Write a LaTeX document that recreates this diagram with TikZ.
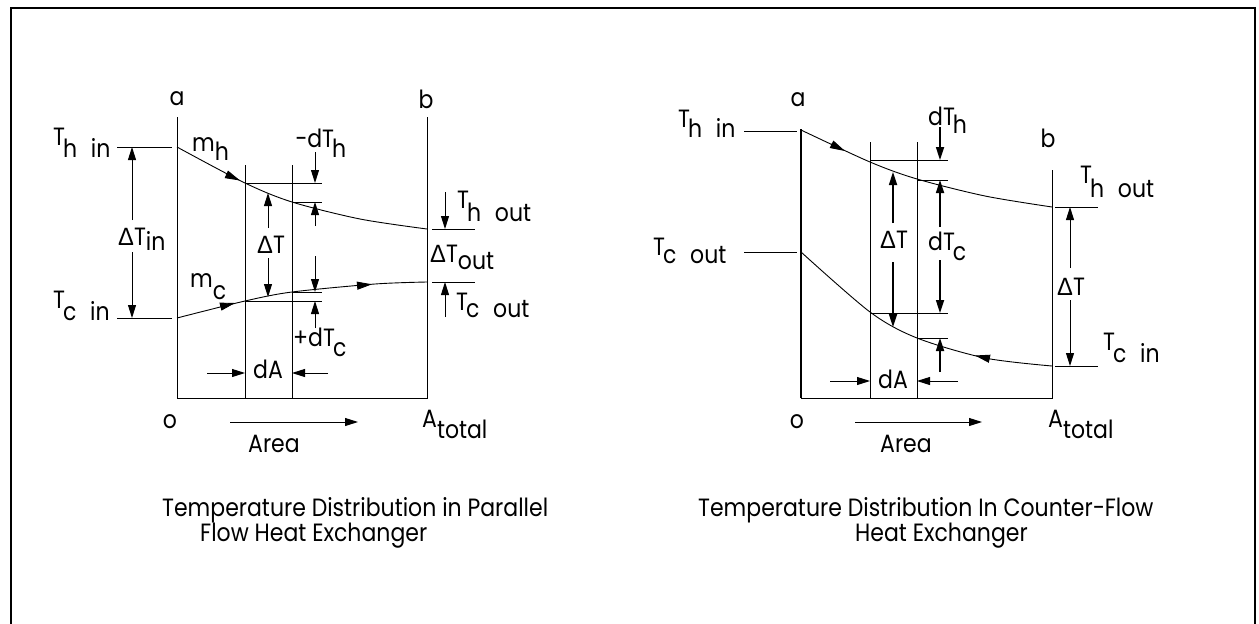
\documentclass[tikz,border=0pt]{standalone}
\usepackage{fontspec}
\setmainfont[FakeStretch=0.88]{Poppins}
\newfontfamily\dvfont[FakeStretch=0.95]{Liberation Sans}
\usetikzlibrary{arrows.meta}
\newcommand\sublow[2][10pt]{\raisebox{-#1}{#2}}
\newcommand\Dl{{\dvfont Δ}}
\newcommand\gap{\hspace{0.55em}}
\tikzset{
  ln/.style={line width=0.9pt},
  thk/.style={line width=1.7pt},
  arr/.style={ln,-{Triangle[length=13pt,width=8pt]}},
  arrt/.style={thk,-{Triangle[length=13pt,width=8pt]}},
  flow/.style={ln,-{Triangle[length=15pt,width=8pt]}},
  lbl/.style={anchor=base west,inner sep=0pt,font=\fontsize{25}{28}\selectfont},
  lblc/.style={anchor=center,inner sep=0pt,font=\fontsize{25}{28}\selectfont},
  cv/.style={ln}
}
\begin{document}
\begin{tikzpicture}[x=1pt,y=-1pt]
\useasboundingbox (0,0) rectangle (1259,624);
% frame
\draw[line width=2.6pt] (11,624) -- (11,8) -- (1255,8) -- (1255,624);

% ================= LEFT DIAGRAM =================
\coordinate (La) at (177,117); \coordinate (Lo) at (177,398);
\coordinate (Lb) at (427,117); \coordinate (Lbo) at (427,398);
\draw[ln] (La) -- (Lo) -- (Lbo) -- (Lb);
\draw[ln] (245,165) -- (245,398);
\draw[ln] (292,165) -- (292,398);
% curves
\draw[cv] plot[smooth] coordinates {(177,147) (245,183) (292,202) (360,219) (427,229)};
\draw[cv] plot[smooth] coordinates {(177,318) (245,301) (292,292) (375,284) (427,282)};
\draw[flow] (226,174.2) -- (240,180.5);
\draw[flow] (221,306.5) -- (235,303);
\draw[flow] (358,285.6) -- (372,284.3);
% level lines
\draw[ln] (117,147) -- (172,147);
\draw[ln] (117,318) -- (172,318);
\draw[ln] (245,183) -- (322,183);
\draw[ln] (292,202) -- (322,202);
\draw[ln] (292,292) -- (322,292);
\draw[ln] (245,301) -- (322,301);
\draw[ln] (432,229) -- (475,229);
\draw[ln] (432,282) -- (475,282);
% arrows
\draw[arr] (132,220) -- (132,147);
\draw[arr] (132,252) -- (132,318);
\draw[arr] (268,228) -- (268,193);
\draw[arr] (268,258) -- (268,297);
\draw[arr] (315,152) -- (315,183);
\draw[arr] (315,226) -- (315,202);
\draw[arr] (315,256) -- (315,292);
\draw[arr] (315,328) -- (315,301);
\draw[arr] (445,192) -- (445,229);
\draw[arr] (445,317) -- (445,282);
\draw[arr] (207,373) -- (245,373);
\draw[arr] (328,373) -- (292,373);
\draw[arr] (230,422) -- (358,422);
% labels
\node[lblc] (la) at (177,99) {a};
\node[lblc] (lb) at (426,99) {b};
\node[lbl] (lthin) at (53,145) {T\kern-2pt\sublow[12pt]{h\gap in}};
\node[lbl] (ltcin) at (53,308) {T\kern-2pt\sublow[12pt]{c\gap in}};
\node[lbl] (ldtin) at (118,245) {\Dl T\sublow[5pt]{in}};
\node[lbl] (lmh) at (192,151) {m\sublow[9pt]{h}};
\node[lbl] (lmc) at (190,287) {m\sublow[12pt]{c}};
\node[lbl] (ldth) at (295,147) {−dT\kern-2pt\sublow[10pt]{h}};
\node[lbl] (ldt) at (257,253) {\Dl T};
\node[lbl] (ldtc) at (293,346) {+dT\kern-2pt\sublow[10pt]{c}};
\node[lbl] (lda) at (253,378) {dA};
\node[lbl] (lthout) at (457,208) {T\kern-2pt\sublow[13pt]{h\gap out}};
\node[lbl] (ldtout) at (430,262) {\Dl T\sublow[7pt]{out}};
\node[lbl] (ltcout) at (456,310) {T\kern-2pt\sublow[7pt]{c\gap out}};
\node[lblc] (lo) at (170,422) {o};
\node[lbl] (larea) at (248,452) {Area};
\node[lbl] (latot) at (422,427) {A\sublow[11pt]{total}};
\node[lbl] (lcap1) at (162,516) {Temperature Distribution in Parallel};
\node[lbl] (lcap2) at (200,541) {Flow Heat Exchanger};

% ================= RIGHT DIAGRAM =================
\coordinate (Ra) at (801,129); \coordinate (Ro) at (801,398);
\coordinate (Rb) at (1052,170); \coordinate (Rbo) at (1052,398);
\draw[line width=1.8pt] (Ra) -- (Ro);
\draw[ln] (Ro) -- (Rbo) -- (Rb);
\draw[ln] (870,142) -- (870,398);
\draw[ln] (917,142) -- (917,398);
\draw[cv] plot[smooth] coordinates {(801,130) (870,162) (917,179) (985,196) (1052,207)};
\draw[cv] plot[smooth] coordinates {(801,252) (870,312) (917,338) (985,358) (1052,366)};
\draw[flow] (831,144) -- (845,151);
\draw[flow] (989,358.6) -- (975,355.5);
\draw[ln] (744,131) -- (797,131);
\draw[ln] (744,252) -- (797,252);
\draw[ln] (870,160) -- (948,160);
\draw[ln] (917,180) -- (948,180);
\draw[ln] (870,313) -- (948,313);
\draw[ln] (917,338) -- (948,338);
\draw[ln] (1055,207) -- (1098,207);
\draw[ln] (1055,366) -- (1098,366);
% arrows
\draw[arrt] (940,127) -- (940,160);
\draw[arrt] (940,227) -- (940,180);
\draw[arrt] (940,260) -- (940,313);
\draw[arrt] (940,372) -- (940,338);
\draw[arrt] (893,223) -- (893,172);
\draw[arrt] (893,262) -- (893,327);
\draw[arr] (1070,268) -- (1070,207);
\draw[arr] (1070,300) -- (1070,366);
\draw[arr] (830,381) -- (870,381);
\draw[arr] (958,381) -- (917,381);
\draw[arr] (855,422) -- (982,422);
% labels
\node[lblc] (ra) at (798,100) {a};
\node[lblc] (rb) at (1048,138) {b};
\node[lbl] (rthin) at (678,127) {T\kern-2pt\sublow[10pt]{h\gap in}};
\node[lbl] (rtcout) at (653,255) {T\kern-2pt\sublow[8pt]{c\gap out}};
\node[lbl] (rdth) at (928,125) {dT\kern-2pt\sublow[8pt]{h}};
\node[lbl] (rdt) at (880,248) {\Dl T};
\node[lbl] (rdtc) at (928,250) {dT\kern-2pt\sublow[10pt]{c}};
\node[lbl] (rda) at (878,388) {dA};
\node[lbl] (rdt2) at (1057,295) {\Dl T};
\node[lbl] (rthout) at (1080,183) {T\kern-2pt\sublow[14pt]{h\gap out}};
\node[lbl] (rtcin) at (1103,350) {T\kern-2pt\sublow[12pt]{c\gap in}};
\node[lblc] (ro) at (797,422) {o};
\node[lbl] (rarea) at (880,452) {Area};
\node[lbl] (ratot) at (1048,427) {A\sublow[11pt]{total}};
\node[lbl] (rcap1) at (698,516) {Temperature Distribution In Counter−Flow};
\node[lbl] (rcap2) at (855,541) {Heat Exchanger};
\end{tikzpicture}
\end{document}
